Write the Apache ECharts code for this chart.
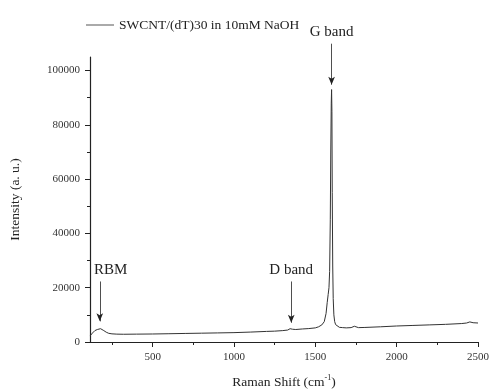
<!DOCTYPE html>
<html>
<head>
<meta charset="utf-8">
<script src="https://cdn.jsdelivr.net/npm/echarts@6/dist/echarts.min.js"></script>
<style>
html,body{margin:0;padding:0;background:#fff;}
#main{width:491px;height:391px;}
</style>
</head>
<body>
<div id="main"></div>
<script>
// 拉曼光谱数据
var shift = [115, 130, 145, 160, 170, 180, 190, 200, 215, 230, 250, 280, 320, 400, 500, 600, 700, 800, 900, 1000,
	1100, 1200, 1250, 1300, 1330, 1345, 1352, 1360, 1380, 1420, 1460, 1500, 1520, 1540, 1555, 1566, 1573, 1579, 1584, 1588,
	1592, 1595, 1598, 1600, 1602, 1604, 1607, 1610, 1614, 1619, 1625, 1633, 1648, 1668, 1690, 1720, 1740, 1750, 1765, 1800,
	1900, 2000, 2100, 2200, 2300, 2400, 2430, 2450, 2470, 2500];
var intensity = [2200, 3300, 4200, 4600, 4800, 4900, 4700, 4200, 3600, 3200, 3000, 2900, 2850, 2900, 2950, 3050, 3150, 3250, 3350, 3450,
	3650, 3900, 4000, 4200, 4400, 4900, 5100, 4700, 4600, 4800, 4950, 5200, 5600, 6300, 7500, 10500, 14500, 17500, 20000, 26000,
	45000, 70000, 88000, 93000, 85000, 55000, 28000, 16000, 10000, 7500, 6400, 5800, 5400, 5300, 5200, 5300, 5800, 5500, 5300, 5350,
	5600, 5900, 6100, 6300, 6500, 6800, 7000, 7400, 7100, 7000];
var xLabels = [500, 1000, 1500, 2000, 2500];
var xMinor = [250, 750, 1250, 1750, 2250];
var yLabels = [0, 20000, 40000, 60000, 80000, 100000];
var yMinor = [10000, 30000, 50000, 70000, 90000];
// 标注：名称, 位置, 箭头起点, 箭头终点
var bandNames = ['RBM', 'D band', 'G band'];
var bandPos = [175, 1352, 1600];
var arrowTop = [22300, 22300, 109900];
var arrowTip = [7600, 7100, 94800];

var pts = [];
for (var i = 0; i < shift.length; i++) {
	pts.push([shift[i], intensity[i]]);
}

var font = '"Liberation Serif", "Times New Roman", serif';
var plain = function (v) { return String(v); };
var chart = echarts.init(document.getElementById('main'));
var option = {
	animation: false,
	backgroundColor: '#fff',
	textStyle: {fontFamily: font},
	legend: {
		left: 81,
		top: 13,
		icon: 'rect',
		itemWidth: 28,
		itemHeight: 1,
		itemGap: 5,
		itemStyle: {color: '#555'},
		textStyle: {fontFamily: font, fontSize: 13.5, color: '#222'},
		data: ['SWCNT/(dT)30 in 10mM NaOH']
	},
	grid: {left: 90, right: 13, top: 57, bottom: 49, containLabel: false, outerBoundsMode: 'none'},
	xAxis: [{
		type: 'value',
		min: 115,
		max: 2500,
		splitLine: {show: false},
		axisLine: {lineStyle: {color: '#222', width: 1.2}},
		axisTick: {length: 5, lineStyle: {color: '#222'}, customValues: xLabels},
		axisLabel: {fontFamily: font, fontSize: 11, color: '#333', margin: 10, customValues: xLabels, formatter: plain},
		name: '{a|Raman Shift (cm}{s|-1}{a|)}',
		nameLocation: 'middle',
		nameGap: 32,
		nameTextStyle: {
			rich: {
				a: {fontFamily: font, fontSize: 13.5, color: '#222'},
				s: {fontFamily: font, fontSize: 8, color: '#222', padding: [0, 0, 8, 0]}
			}
		}
	}, {
		// 次刻度
		type: 'value',
		position: 'bottom',
		min: 115,
		max: 2500,
		splitLine: {show: false},
		axisLine: {show: false},
		axisTick: {length: 3, lineStyle: {color: '#222'}, customValues: xMinor},
		axisLabel: {show: false}
	}],
	yAxis: [{
		type: 'value',
		min: 0,
		max: 105000,
		splitLine: {show: false},
		axisLine: {show: true, lineStyle: {color: '#222', width: 1.2}},
		axisTick: {show: true, length: 5, lineStyle: {color: '#222'}, customValues: yLabels},
		axisLabel: {fontFamily: font, fontSize: 11, color: '#333', margin: 10, customValues: yLabels, formatter: plain},
		name: 'Intensity (a. u.)',
		nameLocation: 'middle',
		nameGap: 68,
		nameTextStyle: {fontFamily: font, fontSize: 13.5, color: '#222'}
	}, {
		type: 'value',
		position: 'left',
		min: 0,
		max: 105000,
		splitLine: {show: false},
		axisLine: {show: false},
		axisTick: {show: true, length: 3, lineStyle: {color: '#222'}, customValues: yMinor},
		axisLabel: {show: false}
	}],
	series: [{
		name: 'SWCNT/(dT)30 in 10mM NaOH',
		type: 'line',
		data: pts,
		showSymbol: false,
		symbol: 'none',
		lineStyle: {color: '#333', width: 1},
		itemStyle: {color: '#555'}
	}]
};
chart.setOption(option);

// 箭头标注：按数据坐标换算成像素（G band 箭头起点高于坐标轴上限）
var marks = [];
for (var j = 0; j < bandNames.length; j++) {
	var p0 = chart.convertToPixel({gridIndex: 0}, [bandPos[j], arrowTop[j]]);
	var p1 = chart.convertToPixel({gridIndex: 0}, [bandPos[j], arrowTip[j]]);
	marks.push([
		{x: p0[0], y: p0[1], name: bandNames[j], label: {offset: [j === 0 ? 11 : 0, 0]}},
		{x: p1[0], y: p1[1]}
	]);
}
chart.setOption({
	series: [{
		markLine: {
			silent: true,
			symbol: ['none', 'arrow'],
			symbolSize: [5, 8],
			lineStyle: {color: '#222', width: 0.8, type: 'solid'},
			label: {
				show: true,
				position: 'start',
				distance: 4,
				formatter: '{b}',
				fontFamily: font,
				fontSize: 15,
				color: '#222'
			},
			data: marks
		}
	}]
});
</script>
</body>
</html>
